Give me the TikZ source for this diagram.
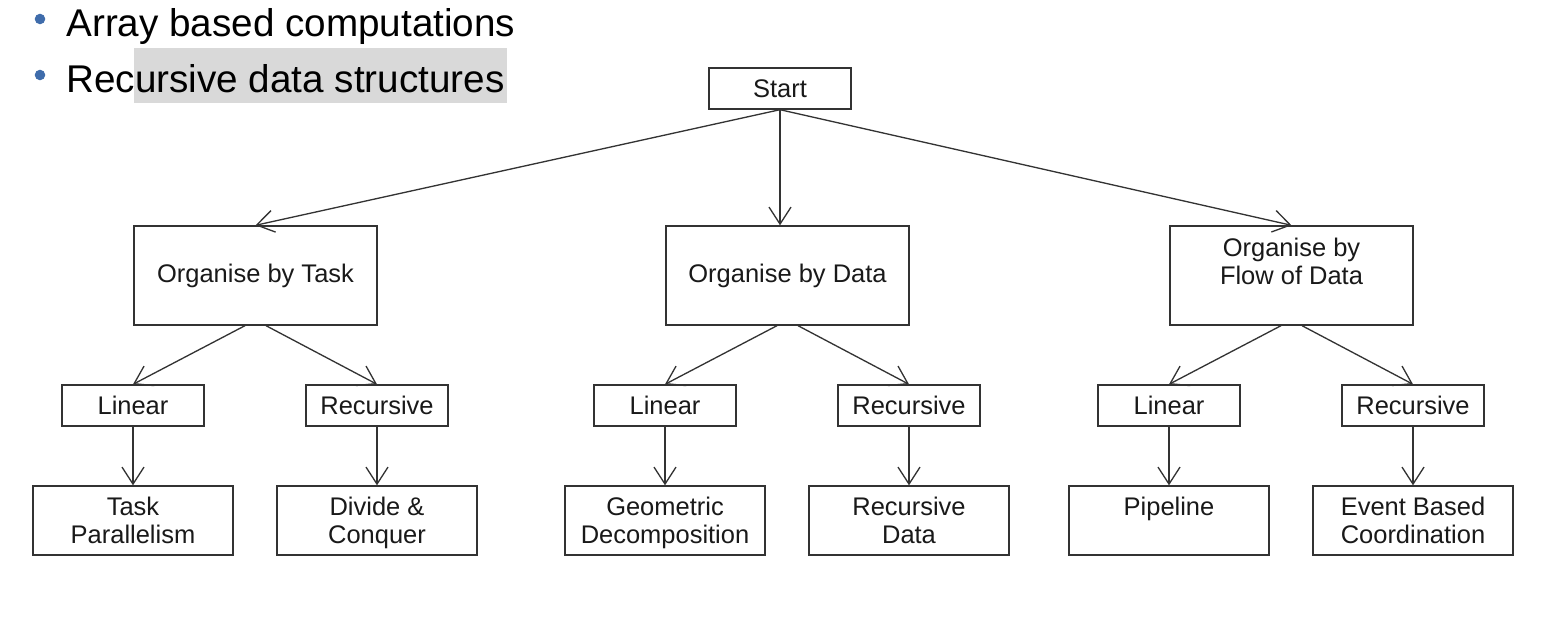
\documentclass[tikz,border=0pt]{standalone}
\usepackage{fontspec}
\setmainfont{Liberation Sans}
\usetikzlibrary{arrows.meta}
\definecolor{bulletblue}{HTML}{3F6CAB}

\begin{document}
\begin{tikzpicture}[x=0.02cm, y=-0.02cm,
        box/.style={draw=black!80, line width=0.8pt, align=center, inner sep=0pt,
            font=\fontsize{14.5}{16}\selectfont, text=black!90},
        small/.style={box, minimum width=2.84cm, minimum height=0.82cm},
        big/.style={box, minimum width=4.86cm, minimum height=1.98cm},
        leaf/.style={box, minimum width=4cm, minimum height=1.38cm,
            text height=27pt, text depth=0.6pt},
        link/.style={draw=black!80, line width=0.75pt,
            -{Straight Barb[length=0.34cm, width=0.44cm]}},
        bullet/.style={anchor=base west, inner sep=0pt, font=\fontsize{22}{26}\selectfont}
    ]
        \useasboundingbox (0, 0) rectangle (1554, 618);
        % bullet list
        \fill[black!15] (134, 48) rectangle (507, 103);
        \fill[bulletblue] (40, 19) circle (3pt);
        \fill[bulletblue] (40, 75) circle (3pt);
        \node[bullet] (array) at (66, 37) {Array based computations};
        \node[bullet] (recdata) at (66, 93) {Recursive data structures};

        % tree
        \node[small] (start) at (780, 88.5) {Start};
        \node[big] (task) at (255.5, 275.5) {Organise by Task};
        \node[big] (data) at (787.5, 275.5) {Organise by Data};
        \node[big, text height=27pt, text depth=16.2pt] (flow) at (1291.5, 275.5) {Organise by\\Flow of Data};

        \node[small] (task-lin) at (133, 405.5) {Linear};
        \node[small] (task-rec) at (377, 405.5) {Recursive};
        \node[small] (data-lin) at (665, 405.5) {Linear};
        \node[small] (data-rec) at (909, 405.5) {Recursive};
        \node[small] (flow-lin) at (1169, 405.5) {Linear};
        \node[small] (flow-rec) at (1413, 405.5) {Recursive};

        \node[leaf] (task-lin-end) at (133, 520.5) {Task\\Parallelism};
        \node[leaf] (task-rec-end) at (377, 520.5) {Divide \&\\Conquer};
        \node[leaf] (data-lin-end) at (665, 520.5) {Geometric\\Decomposition};
        \node[leaf] (data-rec-end) at (909, 520.5) {Recursive\\Data};
        \node[leaf] (flow-lin-end) at (1169, 520.5) {Pipeline\\\mbox{}};
        \node[leaf] (flow-rec-end) at (1413, 520.5) {Event Based\\Coordination};

        \draw[link] (start.south) -- (task.north);
        \draw[link] (start.south) -- (start.south |- data.north);
        \draw[link] (start.south) -- (flow.north);
        \foreach \g in {task, data, flow} {
            \draw[link] ([xshift=-6]\g.south) -- (\g-lin.north);
            \draw[link] ([xshift=6]\g.south) -- (\g-rec.north);
            \draw[link] (\g-lin.south) -- (\g-lin-end.north);
            \draw[link] (\g-rec.south) -- (\g-rec-end.north);
        }
    \end{tikzpicture}
\end{document}
